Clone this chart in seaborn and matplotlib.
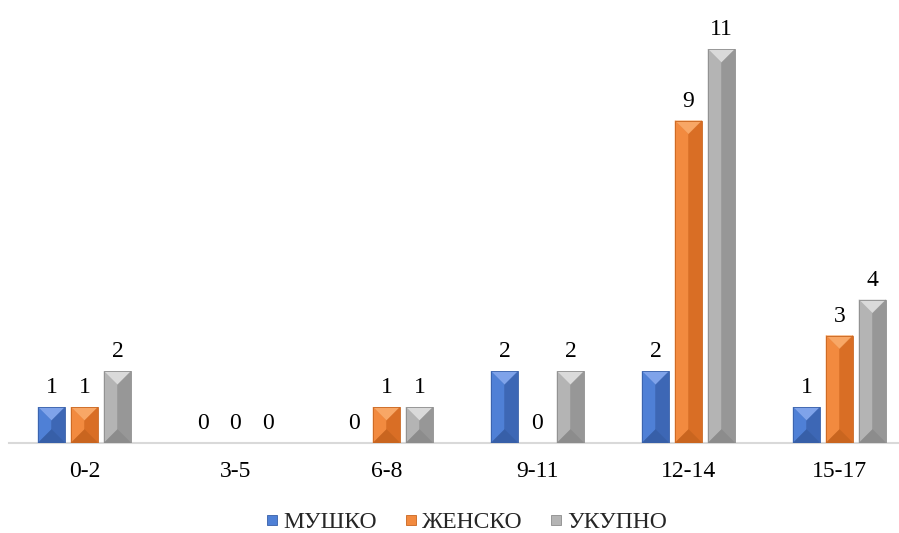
import matplotlib
matplotlib.use("Agg")
import matplotlib.pyplot as plt
from matplotlib.lines import Line2D
from matplotlib.patches import Polygon
import pandas as pd
import seaborn as sns

age_groups = ["0-2", "3-5", "6-8", "9-11", "12-14", "15-17"]
male = [1, 0, 0, 2, 2, 1]
female = [1, 0, 1, 0, 9, 3]
total = [2, 0, 1, 2, 11, 4]
series_names = ["МУШКО", "ЖЕНСКО", "УКУПНО"]

base_colors = ["#4472C4", "#ED7D31", "#A5A5A5"]
# bevel faces: top, left, right, bottom
face_colors = [
    ["#7FA3EA", "#4F80D6", "#3D67B5", "#375FA8"],
    ["#F8A766", "#F28A3F", "#D96E25", "#C9651F"],
    ["#DADADA", "#B4B4B4", "#979797", "#8C8C8C"],
]

rows = []
for i, age in enumerate(age_groups):
    for name, vals in zip(series_names, [male, female, total]):
        rows.append((age, name, vals[i]))
df = pd.DataFrame(rows, columns=["age", "sex", "count"])

sns.set_theme(style="white")
plt.rcParams["font.family"] = ["Liberation Serif", "DejaVu Serif"]

fig = plt.figure(figsize=(8.99, 5.33), dpi=100)
ax = fig.add_axes([9 / 899, 90 / 533, 906 / 899, 429.6 / 533])

sns.barplot(data=df, x="age", y="count", hue="sex", palette=base_colors,
            width=0.655, gap=0.18, ax=ax, legend=False)
ax.set_ylim(0, 12)
ax.set_xlim(-0.5, len(age_groups) - 0.5)

fig.canvas.draw()
to_disp = ax.transData
to_data = ax.transData.inverted()


def bevel(patch, faces):
    x0, y0 = patch.get_x(), patch.get_y()
    w, h = patch.get_width(), patch.get_height()
    if h <= 0:
        return
    (dx0, dy0), (dx1, dy1) = to_disp.transform([(x0, y0), (x0 + w, y0 + h)])
    half = (dx1 - dx0) / 2
    cx = (dx0 + dx1) / 2
    inset = min(half, (dy1 - dy0) / 2)
    ct = (cx, dy1 - inset)
    cb = (cx, dy0 + inset)
    tl, tr, bl, br = (dx0, dy1), (dx1, dy1), (dx0, dy0), (dx1, dy0)
    polys = [[tl, tr, ct], [tl, ct, cb, bl], [tr, ct, cb, br], [bl, br, cb]]
    for pts, col in zip(polys, faces):
        ax.add_patch(Polygon(to_data.transform(pts), closed=True, facecolor=col,
                             edgecolor=col, linewidth=0.3, zorder=3))
    ax.add_patch(Polygon(to_data.transform([bl, tl, tr, br]), closed=True,
                         fill=False, edgecolor=faces[3], linewidth=0.6, zorder=4))


for cont, faces in zip(ax.containers, face_colors):
    for p in cont:
        bevel(p, faces)
    ax.bar_label(cont, padding=6.5, fontsize=17, color="#000000")

sns.despine(ax=ax, left=True, top=True, right=True)
ax.spines["bottom"].set_color("#D9D9D9")
ax.spines["bottom"].set_linewidth(1.5)
ax.set_yticks([])
ax.set_xlabel("")
ax.set_ylabel("")
ax.tick_params(axis="x", length=0, pad=13, labelsize=17, colors="#000000")

# square legend keys
handles = [Line2D([], [], linestyle="none", marker="s", markersize=7,
                  markerfacecolor=f[1], markeredgecolor=f[3], markeredgewidth=0.6)
           for f in face_colors]
fig.legend(handles, series_names, loc="center", bbox_to_anchor=(467 / 899, 11 / 533),
           ncol=3, frameon=False, fontsize=17, handlelength=0.45,
           handletextpad=0.25, columnspacing=1.2, borderpad=0)

fig.savefig("out.png", dpi=100)
